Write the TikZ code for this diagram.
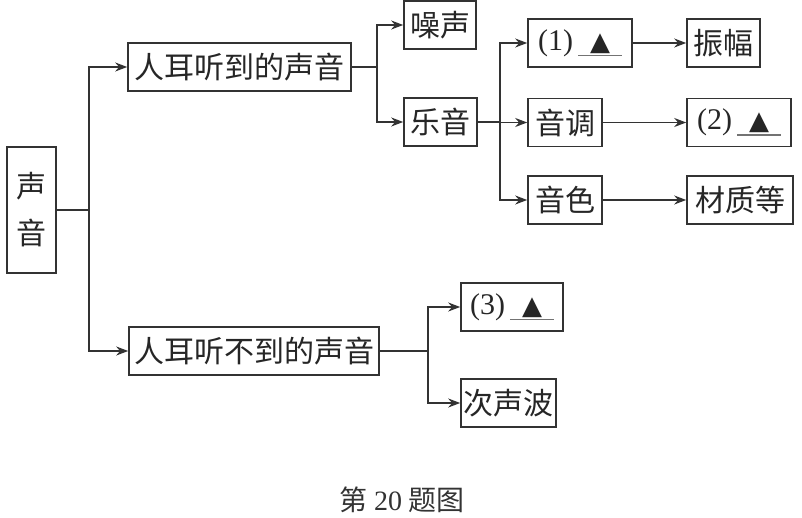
\documentclass[tikz,border=0pt]{standalone}
\usepackage{fontspec}
\usepackage{xcolor}
\setmainfont{Liberation Serif}
\newfontfamily\cjk{Noto Sans CJK SC}
\newfontfamily\symb{DejaVu Sans}
\usetikzlibrary{arrows.meta}

% blank to fill in, with the triangle mark above the line
\newcommand{\blank}{\makebox[44pt]{\symb\fontsize{26}{26}\selectfont ▲}\llap{\textcolor{black!55}{\rule[-6pt]{44pt}{1.3pt}}}}

\begin{document}
\begin{tikzpicture}[x=1pt,y=-1pt,
        box/.style={draw=black!80,line width=1.6pt,minimum height=48pt,inner sep=0pt,
            text=black!85,font=\cjk\fontsize{30}{47}\selectfont},
        arr/.style={draw=black!80,line width=1.6pt,-{Stealth[length=12pt,width=9pt]}},
        ln/.style={draw=black!80,line width=1.6pt}]
            \useasboundingbox (0,0) rectangle (802,518);

            \node (root) at (31.5,210) [box,minimum width=49pt,minimum height=126pt,align=center] {声\\音};
            \node (hear) at (239.5,67) [box,minimum width=223pt] {人耳听到的声音};
            \node (nothear) at (254,351) [box,minimum width=250pt] {人耳听不到的声音};
            \node (noise) at (440,25) [box,minimum width=72pt] {噪声};
            \node (music) at (440.5,122) [box,minimum width=73pt] {乐音};
            \node (one) at (580,43) [box,minimum width=104pt] {{\rmfamily (1)}\hspace{5pt}\blank};
            \node (tone) at (565,122.5) [box,minimum width=74pt] {音调};
            \node (timbre) at (565,200) [box,minimum width=74pt] {音色};
            \node (amp) at (723.5,43) [box,minimum width=73pt] {振幅};
            \node (two) at (739,122.5) [box,minimum width=104pt] {{\rmfamily (2)}\hspace{5pt}\blank};
            \node (stuff) at (740,200) [box,minimum width=106pt] {材质等};
            \node (three) at (512,307) [box,minimum width=102pt] {{\rmfamily (3)}\hspace{5pt}\blank};
            \node (infra) at (508.5,403) [box,minimum width=95pt] {次声波};

            \coordinate (j1) at (89,210);
            \coordinate (j2) at (377,67);
            \coordinate (j3) at (500,122);
            \coordinate (j4) at (428,351);

            \draw[ln] (root.east) -- (j1);
            \draw[arr] (j1) |- (hear.west);
            \draw[arr] (j1) |- (nothear.west);
            \draw[ln] (hear.east) -- (j2);
            \draw[arr] (j2) |- (noise.west);
            \draw[arr] (j2) |- (music.west);
            \draw[ln] (music.east) -- (j3);
            \draw[arr] (j3) |- (one.west);
            \draw[arr] (j3) |- (tone.west);
            \draw[arr] (j3) |- (timbre.west);
            \draw[arr] (one) -- (amp);
            \draw[arr] (tone) -- (two);
            \draw[arr] (timbre) -- (stuff);
            \draw[ln] (nothear.east) -- (j4);
            \draw[arr] (j4) |- (three.west);
            \draw[arr] (j4) |- (infra.west);

            \node (cap) at (402,500) [text=black!80,font=\cjk\fontsize{28}{32}\selectfont] {第 {\rmfamily 20} 题图};
        \end{tikzpicture}
\end{document}
